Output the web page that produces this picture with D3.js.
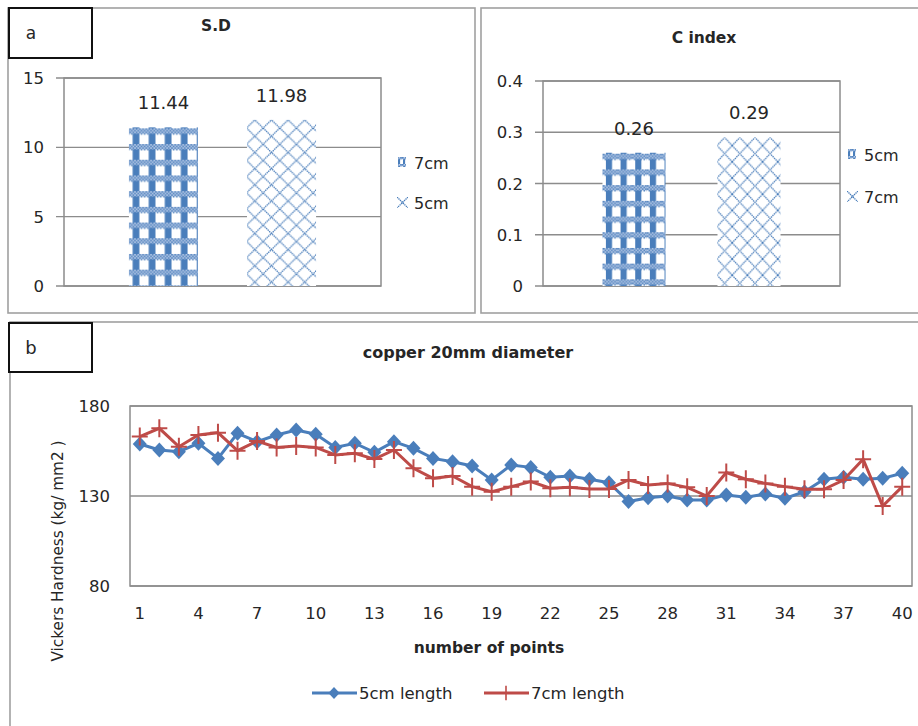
<!DOCTYPE html>
<html><head><meta charset="utf-8">
<script src="https://cdn.jsdelivr.net/npm/d3@7/dist/d3.min.js"></script>
<style>
body{margin:0;background:#fff}
svg{display:block}
text{font-family:"DejaVu Sans",sans-serif;fill:#262626}
</style>
</head><body>
<svg id="chart" width="918" height="726"></svg>
<script>
// ---------- data ----------
const sdSeries = ["7cm", "5cm"];
const sdValues = [11.44, 11.98];
const sdTicks = [0, 5, 10, 15];

const ciSeries = ["5cm", "7cm"];
const ciValues = [0.26, 0.29];
const ciTicks = [0, 0.1, 0.2, 0.3, 0.4];

const points = [1,2,3,4,5,6,7,8,9,10,11,12,13,14,15,16,17,18,19,20,21,22,23,24,25,26,27,28,29,30,31,32,33,34,35,36,37,38,39,40];
const pointTicks = [1,4,7,10,13,16,19,22,25,28,31,34,37,40];
const hardTicks = [80, 130, 180];
const hard5 = [158.9,155.6,154.6,159.3,150.9,164.8,160.2,163.9,166.7,164.3,157.0,159.3,154.3,160.2,156.5,150.9,149.0,146.7,138.9,147.2,145.9,140.4,141.1,139.3,137.4,126.9,129.0,130.0,127.8,127.8,130.6,129.3,131.1,128.7,132.4,139.3,140.4,139.3,139.8,142.6];
const hard7 = [163.0,167.6,157.4,163.9,165.2,155.2,160.5,157.0,157.8,157.0,152.8,153.7,150.5,155.6,145.4,139.8,141.1,135.2,132.4,135.2,138.0,134.3,134.8,133.9,133.9,138.9,136.1,137.0,134.8,130.0,143.0,139.3,137.0,135.2,133.7,133.7,138.9,150.4,124.4,135.2];
const lineSeries = ["5cm length", "7cm length"];

// ---------- styles ----------
const BLUE = "#4a7ebb", RED = "#be4b48", GRID = "#8c8c8c", FRAME = "#a0a0a0";
const svg = d3.select("#chart");
const defs = svg.append("defs");

// plaid pattern (checked bars)
function plaid(id, x0, y0, w, h){
  const p = defs.append("pattern").attr("id", id).attr("patternUnits","userSpaceOnUse")
    .attr("x", x0).attr("y", y0).attr("width", w).attr("height", h);
  p.append("rect").attr("width", w).attr("height", h).attr("fill", "#fff");
  p.append("rect").attr("x", w*0.2).attr("width", w*0.42).attr("height", h).attr("fill", BLUE);
  const bh = h*0.34;
  p.append("rect").attr("y", 0).attr("width", w).attr("height", bh).attr("fill", "#b4c8e6");
  for (let yy = 0, r = 0; yy < bh - 0.5; yy += 1.6, r++) for (let xx = (r%2)*1.6; xx < w; xx += 3.2)
    p.append("rect").attr("x", xx).attr("y", yy).attr("width", 1.6).attr("height", 1.6).attr("fill", BLUE).attr("opacity", 0.9);
}
// diamond lattice pattern
function lattice(id, x0, y0, w, h, sw){
  const p = defs.append("pattern").attr("id", id).attr("patternUnits","userSpaceOnUse")
    .attr("x", x0).attr("y", y0).attr("width", w).attr("height", h);
  p.append("rect").attr("width", w).attr("height", h).attr("fill", "#fff");
  p.append("path").attr("d", `M0,0L${w},${h}M${w},0L0,${h}`)
    .attr("stroke", BLUE).attr("stroke-width", sw).attr("stroke-dasharray", "1.4 0.7").attr("fill","none");
}

// ---------- panel frames ----------
function frame(x, y, w, h){
  svg.append("rect").attr("x", x).attr("y", y).attr("width", w).attr("height", h)
    .attr("fill", "none").attr("stroke", FRAME).attr("stroke-width", 1.6);
}
function labelBox(x, y, w, h, t, fs){
  svg.append("rect").attr("x", x).attr("y", y).attr("width", w).attr("height", h)
    .attr("fill", "#fff").attr("stroke", "#111").attr("stroke-width", 2);
  svg.append("text").attr("x", x + 22).attr("y", y + h/2 + fs*0.35).attr("text-anchor","middle")
    .attr("font-size", fs).text(t);
}
frame(8, 8, 467, 305);
frame(481, 8, 450, 305);
frame(10, 322, 925, 420);
labelBox(9, 8, 83, 50, "a", 17);
labelBox(9, 323, 83, 49, "b", 18);

// ---------- bar panels ----------
function barPanel(cfg){
  const {left, right, top, bottom, ticks, max, series, values, title, titleX, titleY, pi, po, fmt, legendX, legendY, legendGap, pfx} = cfg;
  const y = d3.scaleLinear().domain([0, max]).range([bottom, top]);
  const x = d3.scaleBand().domain(series).range([left, right]).paddingInner(pi).paddingOuter(po);
  const g = svg.append("g");
  g.selectAll(".grid").data(ticks).enter().append("line")
    .attr("x1", left - 8).attr("x2", right).attr("y1", d => y(d)).attr("y2", d => y(d))
    .attr("stroke", GRID).attr("stroke-width", 1.3);
  g.append("rect").attr("x", left).attr("y", top).attr("width", right-left).attr("height", bottom-top)
    .attr("fill","none").attr("stroke", GRID).attr("stroke-width", 1.5);
  g.selectAll(".tl").data(ticks).enter().append("text")
    .attr("x", left - 20).attr("y", d => y(d) + 6).attr("text-anchor","end").attr("font-size", 16.5)
    .text(d => fmt(d));
  series.forEach((s, i) => {
    const bx = x(s), by = y(values[i]);
    if (i === 0) plaid(pfx+"p"+i, bx + 0.5, by + 1, x.bandwidth()/4.3, 15.7);
    else lattice(pfx+"p"+i, bx - 0.5, by - 8, x.bandwidth()/4.15, 16.2, 1.3);
  });
  g.selectAll(".bar").data(series).enter().append("rect")
    .attr("x", d => x(d)).attr("width", x.bandwidth())
    .attr("y", (d,i) => y(values[i])).attr("height", (d,i) => bottom - y(values[i]))
    .attr("fill", (d,i) => `url(#${pfx}p${i})`);
  g.selectAll(".vl").data(series).enter().append("text")
    .attr("x", d => x(d) + x.bandwidth()/2).attr("y", (d,i) => y(values[i]) - 18)
    .attr("text-anchor","middle").attr("font-size", 18).text((d,i) => values[i]);
  svg.append("text").attr("x", titleX).attr("y", titleY).attr("text-anchor","middle")
    .attr("font-size", 15.5).attr("font-weight","bold").text(title);
  // legend
  series.forEach((s, i) => {
    const ly = legendY + i*legendGap;
    const id = pfx + "lp" + i;
    if (i === 0) {
      plaid(id, legendX, ly - 6, 5, 7);
      svg.append("rect").attr("x", legendX + 1).attr("y", ly - 6).attr("width", 8).attr("height", 10)
        .attr("fill", `url(#${id})`);
    } else {
      lattice(id, legendX, ly - 6, 11, 11, 1.3);
      svg.append("rect").attr("x", legendX).attr("y", ly - 6).attr("width", 11).attr("height", 11)
        .attr("fill", `url(#${id})`);
    }
    svg.append("text").attr("x", legendX + 17).attr("y", ly + 6).attr("font-size", 16).text(s);
  });
}
barPanel({left:64, right:381, top:78, bottom:286, ticks:sdTicks, max:15, series:sdSeries, values:sdValues,
  title:"S.D", titleX:216, titleY:31, pi:0.415, po:0.55, fmt:d=>d, legendX:397, legendY:163, legendGap:40, pfx:"a"});
barPanel({left:543, right:840, top:81, bottom:286, ticks:ciTicks, max:0.4, series:ciSeries, values:ciValues,
  title:"C index", titleX:704, titleY:43, pi:0.452, po:0.517, fmt:d=>d, legendX:847, legendY:155, legendGap:42, pfx:"c"});

// ---------- line panel ----------
const L = {left:130, right:912, top:406, bottom:586};
const xb = d3.scaleBand().domain(points).range([L.left, L.right]);
const xp = d => xb(d) + xb.bandwidth()/2;
const yl = d3.scaleLinear().domain([80, 180]).range([L.bottom, L.top]);
const gb = svg.append("g");
gb.selectAll(".grid").data(hardTicks).enter().append("line")
  .attr("x1", L.left).attr("x2", L.right).attr("y1", d => yl(d)).attr("y2", d => yl(d))
  .attr("stroke", GRID).attr("stroke-width", 1.4);
gb.append("rect").attr("x", L.left).attr("y", L.top).attr("width", L.right-L.left).attr("height", L.bottom-L.top)
  .attr("fill","none").attr("stroke", GRID).attr("stroke-width", 1.5);
gb.selectAll(".yt").data(hardTicks).enter().append("text")
  .attr("x", 110).attr("y", d => yl(d) + 6).attr("text-anchor","end").attr("font-size", 16.5).text(d => d);
gb.selectAll(".xt").data(pointTicks).enter().append("text")
  .attr("x", d => xp(d)).attr("y", 619).attr("text-anchor","middle").attr("font-size", 16.5).text(d => d);
svg.append("text").attr("x", 468).attr("y", 358).attr("text-anchor","middle")
  .attr("font-size", 16).attr("font-weight","bold").text("copper 20mm diameter");
svg.append("text").attr("x", 489).attr("y", 653).attr("text-anchor","middle")
  .attr("font-size", 15.5).attr("font-weight","bold").text("number of points");
svg.append("text").attr("transform","translate(57,551) rotate(-90)").attr("dy","0.36em")
  .attr("text-anchor","middle").attr("font-size", 15.3).text("Vickers Hardness (kg/ mm2 )");

const line = d3.line().x((d,i) => xp(points[i])).y(d => yl(d));
const diamond = "M0,-7.5L7,0L0,7.5L-7,0Z";
const plus = "M-8,0H8M0,-9V9";
gb.append("path").datum(hard5).attr("d", line).attr("fill","none").attr("stroke", BLUE).attr("stroke-width", 3);
gb.selectAll(".m5").data(hard5).enter().append("path")
  .attr("transform", (d,i) => `translate(${xp(points[i])},${yl(d)})`).attr("d", diamond).attr("fill", BLUE);
gb.append("path").datum(hard7).attr("d", line).attr("fill","none").attr("stroke", RED).attr("stroke-width", 3);
gb.selectAll(".m7").data(hard7).enter().append("path")
  .attr("transform", (d,i) => `translate(${xp(points[i])},${yl(d)})`).attr("d", plus)
  .attr("stroke", RED).attr("stroke-width", 2).attr("fill","none");

// legend
const lg = svg.append("g");
const legendItems = [{name: lineSeries[0], c: BLUE, m: diamond, x: 312}, {name: lineSeries[1], c: RED, m: plus, x: 484}];
legendItems.forEach(it => {
  lg.append("line").attr("x1", it.x).attr("x2", it.x + 45).attr("y1", 693).attr("y2", 693)
    .attr("stroke", it.c).attr("stroke-width", 3);
  const mk = lg.append("path").attr("transform", `translate(${it.x + 22},693) scale(0.8)`).attr("d", it.m);
  if (it.m === diamond) mk.attr("fill", it.c); else mk.attr("stroke", it.c).attr("stroke-width", 2).attr("fill","none");
  lg.append("text").attr("x", it.x + 47).attr("y", 699).attr("font-size", 16.5).text(it.name);
});
</script>
</body></html>
